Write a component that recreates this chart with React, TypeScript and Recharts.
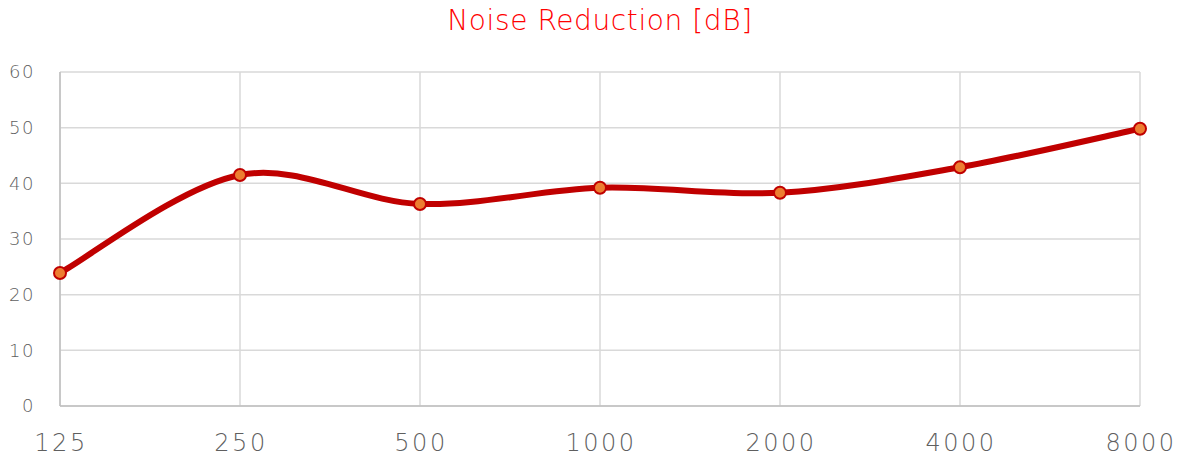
import React from 'react'
import { LineChart, Line, XAxis, YAxis, CartesianGrid } from 'recharts'

const frequencies = ['125', '250', '500', '1000', '2000', '4000', '8000']
const reduction = [23.9, 41.5, 36.3, 39.2, 38.3, 42.9, 49.8]
const yTicks = [0, 10, 20, 30, 40, 50, 60]

const data = frequencies.map((f, i) => ({ freq: f, value: reduction[i] }))

// Excel-style smoothing: Catmull-Rom spline drawn as cubic beziers
const smoothCurve = (context: any) => {
  let pts: [number, number][] = []
  return {
    areaStart() {},
    areaEnd() {},
    lineStart() {
      pts = []
    },
    point(x: number, y: number) {
      pts.push([+x, +y])
    },
    lineEnd() {
      if (!pts.length) return
      context.moveTo(pts[0][0], pts[0][1])
      for (let i = 0; i < pts.length - 1; i++) {
        const p0 = pts[i - 1] || pts[i]
        const p1 = pts[i]
        const p2 = pts[i + 1]
        const p3 = pts[i + 2] || p2
        context.bezierCurveTo(
          p1[0] + (p2[0] - p0[0]) / 6,
          p1[1] + (p2[1] - p0[1]) / 6,
          p2[0] - (p3[0] - p1[0]) / 6,
          p2[1] - (p3[1] - p1[1]) / 6,
          p2[0],
          p2[1]
        )
      }
    },
  }
}

const FONT = '"DejaVu Sans", "Open Sans", sans-serif'

export default function App() {
  return (
    <div style={{ position: 'absolute', left: 0, top: 0, width: 1178, height: 461, background: '#fff' }}>
      <div
        style={{
          position: 'absolute',
          left: 0,
          width: 1200,
          top: 4,
          textAlign: 'center',
          color: '#ff0000',
          fontFamily: FONT,
          fontWeight: 200,
          fontSize: 28,
          letterSpacing: 0.6,
        }}
      >
        Noise Reduction [dB]
      </div>
      <LineChart
        width={1178}
        height={461}
        data={data}
        margin={{ top: 72, right: 38, bottom: 0, left: 0 }}
      >
        <CartesianGrid stroke="#d9d9d9" strokeWidth={1.5} />
        <XAxis
          dataKey="freq"
          scale="point"
          padding={{ left: 0, right: 0 }}
          height={55}
          tickLine={false}
          tickMargin={22}
          axisLine={{ stroke: '#bfbfbf', strokeWidth: 1.5 }}
          tick={{ fill: '#5f5f5f', fontSize: 24, fontFamily: FONT, fontWeight: 200, letterSpacing: 2.5, dx: 1 }}
        />
        <YAxis
          domain={[0, 60]}
          ticks={yTicks}
          width={60}
          tickLine={false}
          tickMargin={19}
          axisLine={{ stroke: '#bfbfbf', strokeWidth: 1.5 }}
          tick={{ fill: '#5f5f5f', fontSize: 18, fontFamily: FONT, fontWeight: 200, letterSpacing: 1.5 }}
        />
        <Line
          dataKey="value"
          type={smoothCurve as any}
          stroke="#c00000"
          strokeWidth={6}
          dot={{ r: 6, fill: '#ed7d31', stroke: '#c00000', strokeWidth: 2 }}
          isAnimationActive={false}
        />
      </LineChart>
    </div>
  )
}
